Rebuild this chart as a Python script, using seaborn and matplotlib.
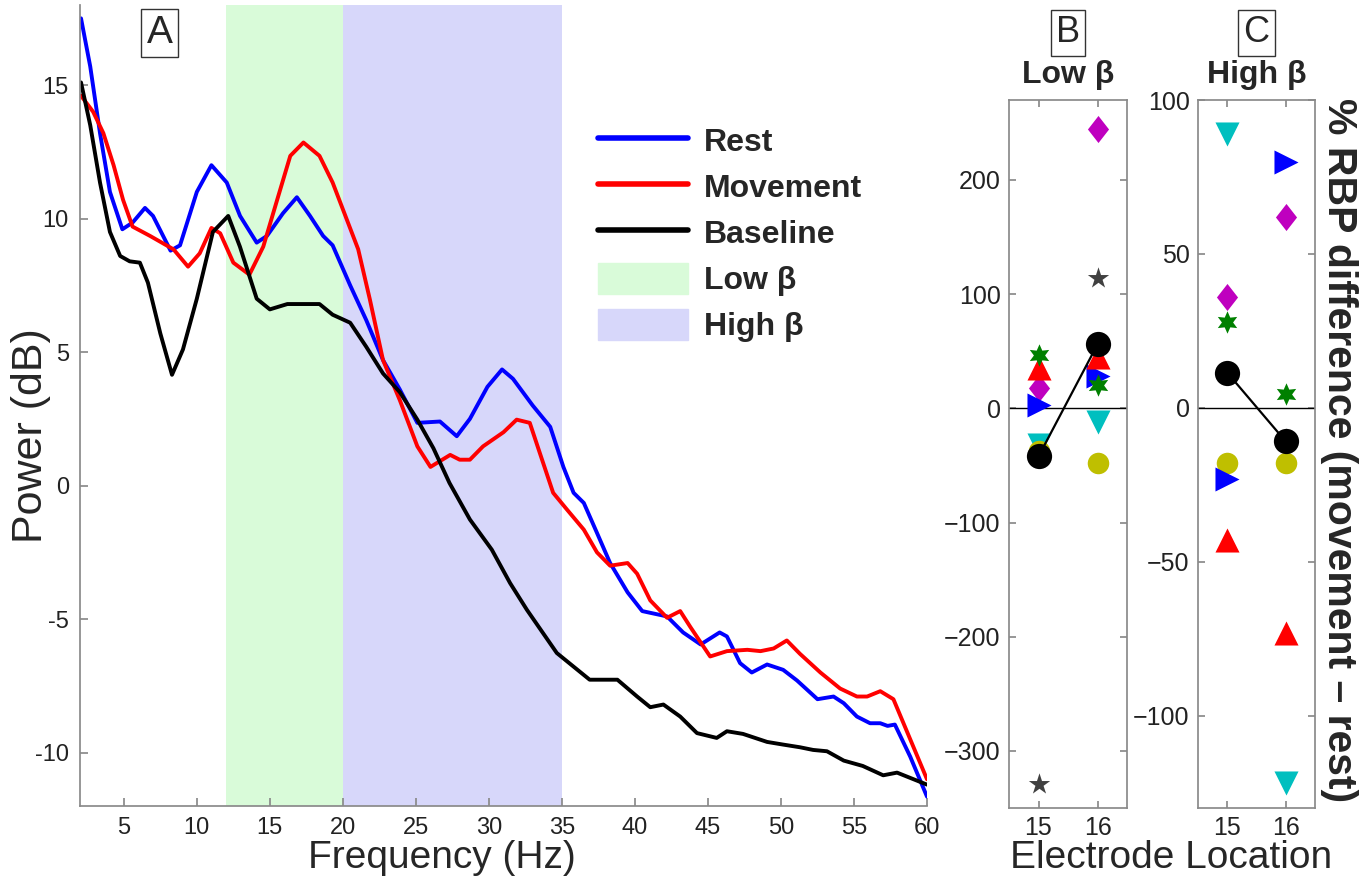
import numpy as np
import pandas as pd
import seaborn as sns
import matplotlib.pyplot as plt
from matplotlib.lines import Line2D
from matplotlib.patches import Patch

# ---- panel A: power spectra ----
rest_f = [2.07, 2.7, 3.37, 4.05, 4.9, 5.6, 6.45, 7.0, 8.2, 8.85, 10.0, 11.0, 12.05, 12.96,
          14.1, 14.8, 15.9, 16.85, 17.75, 18.65, 19.3, 20.5, 21.6, 22.75, 23.9, 25.1, 26.65,
          27.8, 28.7, 29.9, 30.9, 31.65, 33.0, 34.2, 35.1, 35.8, 36.5, 37.4, 38.3, 39.5, 40.5,
          42.2, 43.3, 44.5, 45.8, 46.3, 47.2, 48.0, 49.05, 50.15, 51.1, 52.5, 53.6, 54.3,
          55.2, 56.1, 56.8, 57.3, 57.8, 58.85, 60.0]
rest_db = [17.5, 15.7, 13.2, 11.0, 9.6, 9.85, 10.4, 10.1, 8.8, 9.0, 11.0, 12.0, 11.35, 10.1,
           9.1, 9.35, 10.2, 10.8, 10.1, 9.35, 9.0, 7.5, 6.2, 4.7, 3.6, 2.35, 2.4,
           1.85, 2.5, 3.7, 4.35, 4.0, 3.0, 2.2, 0.7, -0.27, -0.65, -1.77, -2.9, -4.0, -4.7,
           -4.9, -5.5, -5.95, -5.5, -5.65, -6.65, -7.0, -6.7, -6.9, -7.3, -8.0, -7.9, -8.15,
           -8.65, -8.9, -8.9, -9.0, -8.95, -10.15, -11.65]

move_f = [2.07, 2.9, 3.6, 4.3, 4.95, 5.6, 6.8, 8.4, 9.4, 10.2, 11.0, 11.6, 12.5, 13.6,
          14.55, 15.5, 16.4, 17.3, 18.4, 19.3, 20.0, 21.05, 21.85, 22.75, 23.9, 25.1, 26.0,
          27.35, 28.0, 28.7, 29.6, 31.0, 31.9, 32.8, 33.5, 34.4, 35.35, 36.5, 37.4, 38.3,
          39.5, 40.15, 41.05, 42.2, 43.1, 43.8, 45.15, 46.3, 47.7, 48.6, 49.5, 50.4, 51.3,
          52.7, 54.05, 55.2, 55.9, 56.8, 57.7, 58.85, 60.0]
move_db = [14.6, 14.0, 13.2, 12.0, 10.7, 9.7, 9.35, 8.85, 8.2, 8.7, 9.65, 9.45, 8.35, 7.9,
           8.95, 10.7, 12.35, 12.85, 12.35, 11.35, 10.35, 8.85, 6.97, 4.7, 3.2, 1.47, 0.7,
           1.15, 0.97, 0.97, 1.47, 2.0, 2.47, 2.35, 1.2, -0.27, -0.9, -1.65, -2.5, -3.0,
           -2.9, -3.3, -4.3, -4.95, -4.7, -5.3, -6.4, -6.2, -6.15, -6.2, -6.1, -5.8, -6.3,
           -7.0, -7.6, -7.9, -7.9, -7.7, -8.0, -9.5, -11.0]

base_f = [2.07, 2.7, 3.37, 4.05, 4.75, 5.4, 6.1, 6.65, 7.5, 8.3, 9.05, 10.0, 11.1, 12.15,
          12.95, 14.1, 15.0, 16.2, 17.95, 18.4, 19.3, 20.5, 21.6, 22.75, 23.9, 25.1, 26.2,
          27.3, 28.7, 30.2, 31.45, 32.6, 34.65, 36.9, 38.3, 38.8, 40.15, 41.05, 41.95, 43.1,
          44.25, 45.6, 46.3, 47.4, 49.05, 50.15, 51.3, 52.2, 53.15, 54.3, 55.6, 57.0, 57.95,
          60.0]
base_db = [15.1, 13.5, 11.35, 9.5, 8.6, 8.4, 8.35, 7.6, 5.7, 4.15, 5.1, 7.0, 9.5, 10.1,
           8.95, 7.0, 6.6, 6.8, 6.8, 6.8, 6.4, 6.1, 5.2, 4.2, 3.5, 2.47, 1.4,
           0.1, -1.27, -2.4, -3.65, -4.65, -6.27, -7.27, -7.27, -7.27, -7.9, -8.3, -8.2, -8.65,
           -9.27, -9.45, -9.2, -9.3, -9.6, -9.7, -9.8, -9.9, -9.95, -10.3, -10.5, -10.85, -10.75,
           -11.2]

# ---- panels B, C: % RBP difference per subject at electrodes 15 and 16 ----
electrodes = [15, 16]
diamond = [(0, 1), (0.78, 0), (0, -1), (-0.78, 0), (0, 1)]
subj_colors = ['#00BFBF', '#BFBF00', '#404040', '#BF00BF', '#0000FF', '#FF0000', '#008000']
subj_markers = ['v', 'o', '*', diamond, '>', '^', (6, 1, 0)]
subj_sizes = [300, 240, 260, 380, 300, 300, 260]
low_15 = [-32, -37, -329, 18, 3, 35, 47]
low_16 = [-12, -48, 114, 245, 28, 45, 20]
high_15 = [89, -18, 11, 36, -23, -43, 28]
high_16 = [-122, -18, -10, 62, 80, -73, 4.5]

W, H = 1368, 882
fig = plt.figure(figsize=(W / 100, H / 100), dpi=100)
sns.set_theme(style='ticks')
plt.rcParams['font.family'] = ['Liberation Sans', 'DejaVu Sans']


def box(l, r, t, b):
    return [l / W, 1 - b / H, (r - l) / W, (b - t) / H]


spine_c = '#8a8a8a'
txt_c = '#222222'

# ---------------- panel A ----------------
axA = fig.add_axes(box(80, 927, 5, 806))
axA.axvspan(12, 20, color='#D9FBD9', lw=0, zorder=0)
axA.axvspan(20, 35, color='#D7D7FA', lw=0, zorder=0)
for f, d, c in [(rest_f, rest_db, '#0000FF'), (move_f, move_db, '#FF0000'), (base_f, base_db, 'black')]:
    df = pd.DataFrame({'f': f, 'db': d})
    sns.lineplot(data=df, x='f', y='db', color=c, lw=2.8, ax=axA, estimator=None, sort=True)
axA.set_xlim(2, 60)
axA.set_ylim(-12, 18)
axA.set_xticks(range(5, 61, 5))
axA.set_yticks([-10, -5, 0, 5, 10, 15])
axA.set_yticklabels(['-10', '-5', '0', '5', '10', '15'])
axA.tick_params(direction='in', length=6, color=spine_c, labelsize=17, labelcolor=txt_c, pad=8)
for s in ['top', 'right']:
    axA.spines[s].set_visible(False)
for s in ['left', 'bottom']:
    axA.spines[s].set_color(spine_c)
axA.set_xlabel('')
axA.set_ylabel('')
axA.text(0.094, 0.965, 'A', transform=axA.transAxes, fontsize=28, ha='center', va='center',
         bbox=dict(boxstyle='square,pad=0.15', fc='white', ec='#333333', lw=1))
handles = [Line2D([], [], color='#0000FF', lw=4), Line2D([], [], color='#FF0000', lw=4),
           Line2D([], [], color='black', lw=4), Patch(color='#D9FBD9'), Patch(color='#D7D7FA')]
labels = ['Rest', 'Movement', 'Baseline', 'Low β', 'High β']
axA.legend(handles, labels, loc='upper left', bbox_to_anchor=(0.612, 0.85), frameon=False,
           prop={'weight': 'bold', 'size': 23}, handlelength=2.8, handleheight=1.1,
           handletextpad=0.5, labelspacing=0.4, borderpad=0, borderaxespad=0)
fig.text(442 / W, 1 - 858 / H, 'Frequency (Hz)', fontsize=28, ha='center', va='center')
fig.text(31 / W, 1 - 436 / H, 'Power (dB)', fontsize=31, ha='center', va='center', rotation=90)


# ---------------- panels B and C ----------------
def rbp_panel(ax, v15, v16, ylim, yticks, letter, title):
    ax.axhline(0, color='black', lw=1, zorder=1)
    for c, m, s, a, b in zip(subj_colors, subj_markers, subj_sizes, v15, v16):
        sns.scatterplot(x=electrodes, y=[a, b], marker=m, color=c, s=s, linewidth=0, ax=ax, zorder=2)
    mean = [np.mean(v15), np.mean(v16)]
    ax.plot(electrodes, mean, color='black', lw=1.6, zorder=3)
    sns.scatterplot(x=electrodes, y=mean, marker='o', color='black', s=330, linewidth=0, ax=ax, zorder=4)
    ax.set_xlim(14.5, 16.5)
    ax.set_ylim(*ylim)
    ax.set_xticks(electrodes)
    ax.set_yticks(yticks)
    ax.tick_params(direction='in', length=5, color=spine_c, labelsize=18, labelcolor=txt_c,
                   top=True, right=True, pad=6)
    for s in ax.spines.values():
        s.set_color(spine_c)
    ax.text(0.5, 1 + 25 / 708, title, transform=ax.transAxes, fontsize=23, fontweight='bold',
            ha='center', va='center')
    ax.text(0.5, 1 + 67 / 708, letter, transform=ax.transAxes, fontsize=26, ha='center', va='center',
            bbox=dict(boxstyle='square,pad=0.15', fc='white', ec='#333333', lw=1))


axB = fig.add_axes(box(1009, 1127, 100, 808))
rbp_panel(axB, low_15, low_16, (-350, 270), range(-300, 201, 100), 'B', 'Low β')
axC = fig.add_axes(box(1198, 1315, 100, 808))
rbp_panel(axC, high_15, high_16, (-130, 100), [-100, -50, 0, 50, 100], 'C', 'High β')

fig.text(1171 / W, 1 - 858 / H, 'Electrode Location', fontsize=28, ha='center', va='center')
fig.text(1339 / W, 1 - 450 / H, '% RBP difference (movement – rest)', fontsize=29.5,
         fontweight='bold', ha='center', va='center', rotation=-90)

fig.savefig('out.png', dpi=100)
